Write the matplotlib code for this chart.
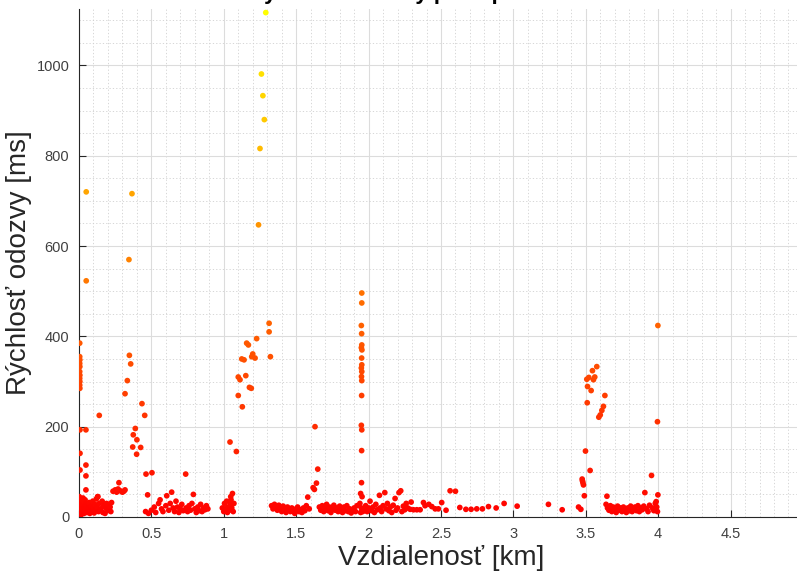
import matplotlib
matplotlib.use("Agg")
import matplotlib.pyplot as plt
from matplotlib.ticker import MultipleLocator, FormatStrFormatter
import numpy as np

plt.rcParams['font.family'] = ['Liberation Sans', 'DejaVu Sans']

title = "Rýchlosť odozvy pri zapnutom Wi-Fi"
x_label = "Vzdialenosť [km]"
y_label = "Rýchlosť odozvy [ms]"
x_ticks = [0, 0.5, 1, 1.5, 2, 2.5, 3, 3.5, 4, 4.5]

# namerane body: vzdialenost [km], odozva [ms]
dist_a = [0.005, 0.005, 0.006, 0.005, 0.006, 0.005, 0.006, 0.005, 0.006, 0.005, 0.006,
          0.007, 0.007, 0.007, 0.048, 0.048, 0.048, 0.048, 0.14, 0.05, 0.05, 0.129,
          0.0, 0.005, 0.01, 0.003, 0.008, 0.012, 0.002, 0.015, 0.02, 0.025, 0.018, 0.022,
          0.03, 0.028, 0.035, 0.04, 0.038, 0.045, 0.042, 0.05, 0.055, 0.06, 0.058, 0.065,
          0.07, 0.068, 0.075, 0.08, 0.085, 0.09, 0.095, 0.1, 0.105, 0.11, 0.115, 0.12,
          0.125, 0.13, 0.135, 0.14, 0.15, 0.16, 0.165, 0.17, 0.18, 0.185, 0.19, 0.2,
          0.205, 0.215, 0.22, 0.225]
resp_a = [385, 355, 348, 340, 333, 322, 314, 307, 300, 292, 285,
          193, 141, 104, 193, 115, 91, 60, 225, 720, 523, 45,
          8, 12, 18, 25, 32, 40, 45, 5, 10, 15, 22, 28,
          35, 42, 8, 14, 20, 26, 38, 30, 10, 18, 24, 12,
          32, 20, 8, 15, 25, 12, 35, 20, 9, 28, 15, 40,
          22, 45, 12, 30, 18, 35, 10, 25, 8, 20, 30, 15,
          28, 22, 12, 32]

dist_b = [0.235, 0.25, 0.26, 0.276, 0.285, 0.3, 0.31, 0.318, 0.27,
          0.366, 0.345, 0.348, 0.357, 0.334, 0.318, 0.435, 0.454, 0.389, 0.375, 0.4,
          0.371, 0.426, 0.398, 0.463, 0.504, 0.474,
          0.46, 0.48, 0.5, 0.52, 0.53, 0.55, 0.56, 0.57, 0.58, 0.6, 0.606, 0.62, 0.63,
          0.64, 0.65, 0.66, 0.67, 0.68, 0.69, 0.7, 0.71, 0.72, 0.737, 0.74, 0.75, 0.76,
          0.77, 0.78, 0.79, 0.8, 0.81, 0.82, 0.83, 0.84, 0.85, 0.86, 0.87, 0.88, 0.89]
resp_b = [57, 60, 55, 76, 58, 55, 57, 60, 62,
          716, 570, 358, 339, 302, 273, 251, 225, 196, 182, 171,
          155, 154, 139, 95, 98, 49,
          12, 8, 15, 22, 10, 30, 38, 18, 12, 25, 47, 15, 30,
          55, 20, 12, 35, 22, 10, 18, 28, 14, 95, 20, 12, 25,
          15, 30, 50, 18, 10, 22, 14, 28, 12, 20, 16, 25, 18]

dist_c = [0.99, 1.0, 1.005, 1.01, 1.02, 1.025, 1.03, 1.04, 1.045, 1.048, 1.05, 1.055,
          1.06, 1.065, 1.07, 1.043, 1.087,
          1.1, 1.112, 1.152, 1.177, 1.19, 1.1, 1.128, 1.124, 1.14, 1.2, 1.193, 1.216,
          1.158, 1.17, 1.227, 1.313, 1.313, 1.322, 1.24, 1.25, 1.28, 1.27, 1.26, 1.29]
resp_c = [20, 12, 30, 18, 35, 10, 22, 15, 28, 45, 38, 20,
          52, 12, 30, 166, 145,
          310, 304, 313, 287, 285, 269, 244, 350, 348, 361, 355, 352,
          385, 381, 395, 429, 410, 355, 647, 816, 880, 933, 981, 1117]

dist_d = [1.33, 1.34, 1.35, 1.36, 1.37, 1.38, 1.39, 1.4, 1.41, 1.42, 1.43, 1.44, 1.45,
          1.46, 1.47, 1.48, 1.49, 1.5, 1.51, 1.52, 1.53, 1.54, 1.55, 1.56, 1.57, 1.58,
          1.59, 1.617, 1.626, 1.64, 1.649, 1.63]
resp_d = [25, 18, 28, 22, 15, 26, 20, 12, 24, 18, 10, 22, 16,
          12, 20, 14, 8, 18, 22, 12, 16, 10, 20, 14, 25, 44,
          18, 65, 61, 75, 106, 200]

dist_e = [1.66, 1.67, 1.68, 1.69, 1.7, 1.71, 1.72, 1.73, 1.74, 1.75, 1.76, 1.77, 1.78,
          1.79, 1.8, 1.81, 1.82, 1.83, 1.84, 1.85, 1.86, 1.87, 1.88, 1.89, 1.9, 1.91,
          1.92,
          1.953, 1.953, 1.95, 1.952, 1.953, 1.95, 1.954, 1.952, 1.953, 1.95, 1.953,
          1.951, 1.953, 1.952, 1.95, 1.953, 1.952, 1.951, 1.945, 1.955, 1.94, 1.95,
          1.96, 1.945]
resp_e = [22, 15, 25, 12, 20, 28, 14, 22, 10, 18, 26, 15, 20,
          12, 24, 16, 10, 22, 14, 25, 12, 18, 9, 15, 20, 12,
          25,
          496, 474, 424, 406, 381, 375, 370, 352, 337, 330, 322,
          311, 302, 269, 203, 193, 147, 76, 52, 45, 30, 20,
          12, 10]

dist_f = [1.97, 1.98, 1.99, 2.0, 2.01, 2.02, 2.03, 2.04, 2.05, 2.06, 2.075, 2.08, 2.09,
          2.1, 2.112, 2.12, 2.13, 2.14, 2.15, 2.16, 2.17, 2.183, 2.19, 2.2, 2.21, 2.222,
          2.23, 2.24, 2.25, 2.26, 2.27, 2.287, 2.294, 2.31, 2.333, 2.356, 2.379, 2.39,
          2.416, 2.437, 2.46, 2.482, 2.505, 2.535, 2.563, 2.6, 2.63, 2.672, 2.708,
          2.747, 2.786, 2.828, 2.881, 2.936, 3.026, 3.242, 3.337, 3.466, 3.45]
resp_f = [18, 25, 12, 20, 35, 14, 22, 10, 28, 16, 48, 20, 12,
          25, 54, 18, 30, 14, 22, 10, 26, 41, 15, 20, 54, 58,
          12, 24, 16, 30, 20, 17, 33, 16, 16, 16, 32, 25,
          28, 23, 18, 18, 32, 15, 58, 57, 21, 17, 17,
          18, 18, 23, 20, 30, 24, 28, 16, 17, 22]

dist_g = [3.477, 3.475, 3.484, 3.48, 3.49, 3.498, 3.53, 3.51, 3.507, 3.521, 3.512,
          3.537, 3.546, 3.553, 3.562, 3.576, 3.632, 3.622, 3.611, 3.6, 3.59]
resp_g = [80, 84, 71, 76, 47, 146, 103, 253, 305, 309, 289,
          280, 324, 304, 310, 333, 269, 245, 236, 226, 221]

dist_h = [3.646, 3.64, 3.65, 3.66, 3.67, 3.68, 3.69, 3.7, 3.71, 3.72, 3.73, 3.74,
          3.75, 3.76, 3.77, 3.78, 3.79, 3.8, 3.81, 3.82, 3.83, 3.84, 3.85, 3.86, 3.87,
          3.88, 3.89, 3.9, 3.908, 3.92, 3.93, 3.94, 3.954, 3.96, 3.97, 3.98, 3.986,
          3.99, 3.995, 3.998, 3.998, 3.995]
resp_h = [46, 28, 20, 15, 25, 12, 22, 18, 10, 24, 15, 20,
          12, 22, 16, 10, 20, 14, 24, 12, 18, 22, 14, 25, 12,
          20, 16, 24, 54, 18, 12, 26, 92, 20, 14, 30, 34,
          22, 211, 424, 49, 12]

dist = np.array(dist_a + dist_b + dist_c + dist_d + dist_e + dist_f + dist_g + dist_h)
resp = np.array(resp_a + resp_b + resp_c + resp_d + resp_e + resp_f + resp_g + resp_h)

fig = plt.figure(figsize=(7.97, 5.79), dpi=100)
ax = fig.add_axes([0.0991, 0.1071, 0.9084, 0.8774])

ax.scatter(dist, resp, c=resp, cmap='autumn', vmin=0, vmax=resp.max(),
           s=17, edgecolors='none', zorder=3)

ax.set_xlim(0, 5)
ax.set_ylim(0, 1125)
ax.set_xticks(x_ticks)
ax.xaxis.set_minor_locator(MultipleLocator(0.1))
ax.yaxis.set_major_locator(MultipleLocator(200))
ax.yaxis.set_minor_locator(MultipleLocator(50))
ax.xaxis.set_major_formatter(FormatStrFormatter('%g'))

ax.grid(which='major', color='#dcdcdc', linewidth=0.8, linestyle='-', zorder=0)
ax.grid(which='minor', color='#d0d0d0', linewidth=0.6, linestyle=(0, (1.5, 2.5)), zorder=0)
ax.set_axisbelow(True)

ax.tick_params(which='major', direction='in', length=5, width=0.8, colors='#262626',
               labelsize=10.5, labelcolor='#404040', pad=7)
ax.tick_params(which='minor', length=0)

for side in ['top', 'right']:
    ax.spines[side].set_visible(False)
for side in ['left', 'bottom']:
    ax.spines[side].set_color('#262626')
    ax.spines[side].set_linewidth(0.8)

ax.set_xlabel(x_label, fontsize=20, color='#262626', labelpad=3)
ax.set_ylabel(y_label, fontsize=20, color='#262626', labelpad=3)

# nadpis je zhora orezany, vidno iba spodok pismen
fig.text(0.553, 1.002, title, ha='center', va='baseline', fontsize=16,
         fontweight='bold', color='black')

fig.savefig('out.png', dpi=100)
